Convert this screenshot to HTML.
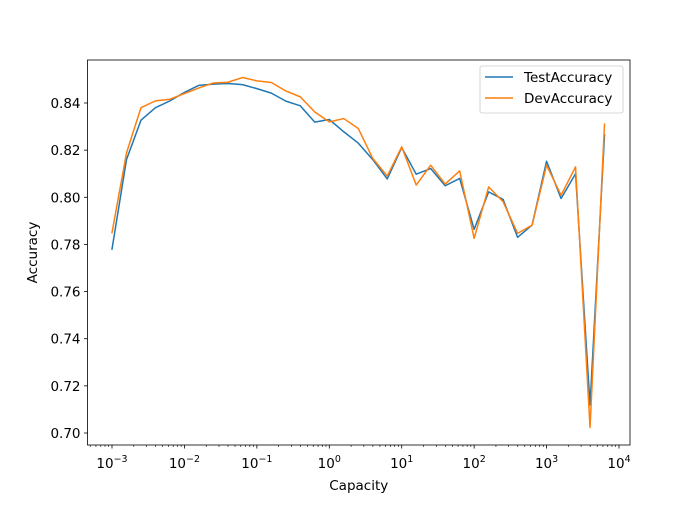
<!DOCTYPE html>
<html><head><meta charset="utf-8"><style>
body{margin:0;background:#fff}
svg text{font-family:"DejaVu Sans","Liberation Sans",sans-serif;font-size:13.5px;fill:#000}
</style></head><body>
<svg id="chart" width="700" height="500" xmlns="http://www.w3.org/2000/svg">
<rect width="700" height="500" fill="#fff"/>
<g id="plot"></g>
</svg>
<script>
const exponents = [];
for (let i = 0; i < 35; i++) exponents.push(-3 + 0.2 * i);
const testAccuracy = [0.778,0.816,0.8327,0.838,0.8409,0.8445,0.8475,0.848,0.8483,0.8478,0.8461,0.8442,0.8408,0.8388,0.8319,0.833,0.8278,0.823,0.816,0.8078,0.8211,0.8098,0.8122,0.8049,0.808,0.7864,0.8023,0.7991,0.783,0.7882,0.8153,0.7995,0.81,0.7119,0.8264];
const devAccuracy = [0.785,0.8188,0.838,0.8409,0.8416,0.844,0.8464,0.8485,0.8488,0.8508,0.8494,0.8487,0.8451,0.8426,0.8362,0.832,0.8334,0.8292,0.8165,0.809,0.8214,0.8052,0.8136,0.8056,0.8112,0.7826,0.8044,0.7981,0.7847,0.7882,0.8136,0.8009,0.8129,0.7024,0.831];
const yTicks = [0.70,0.72,0.74,0.76,0.78,0.80,0.82,0.84];
const xTickExps = [-3,-2,-1,0,1,2,3,4];

const L=87.5,R=630,T=60,B=445;
const xs = e => 112 + (e + 3) * (619 - 112) / 7;
const ys = v => 433 - (v - 0.70) / 0.02 * (433 - 103) / 7;
const NS="http://www.w3.org/2000/svg";
const g=document.getElementById('plot');
function mk(tag,attrs,parent){const el=document.createElementNS(NS,tag);for(const k in attrs)el.setAttribute(k,attrs[k]);(parent||g).appendChild(el);return el;}

const colors=['#1f77b4','#ff7f0e'];
[testAccuracy,devAccuracy].forEach((s,si)=>{
  const pts=s.map((v,i)=>xs(exponents[i]).toFixed(2)+','+ys(v).toFixed(2)).join(' ');
  const pl=mk('polyline',{points:pts,fill:'none',stroke:colors[si],'stroke-width':1.5,'stroke-linejoin':'round','stroke-linecap':'square'});
  
  
});

const fr=mk('rect',{x:L,y:T,width:R-L,height:B-T,fill:'none',stroke:'#000','stroke-width':0.8});



yTicks.forEach(v=>{
  const y=ys(v);
  mk('line',{x1:L,x2:L-3.5,y1:y,y2:y,stroke:'#000','stroke-width':0.8});
  const t=mk('text',{x:L-7,y:y+5,'text-anchor':'end'});
  t.textContent=v.toFixed(2);
  
  
});
xTickExps.forEach(e=>{
  const x=xs(e);
  mk('line',{x1:x,x2:x,y1:B,y2:B+3.5,stroke:'#000','stroke-width':0.8});
  const t=mk('text',{x:x,y:B+23,'text-anchor':'middle'});
  
  
  const a=document.createElementNS(NS,'tspan');a.textContent='10';t.appendChild(a);
  const b=document.createElementNS(NS,'tspan');b.textContent=(e<0?'\u2212'+(-e):''+e);b.setAttribute('dy','-6');b.setAttribute('font-size','9.5');t.appendChild(b);
});
for(let e=-4;e<=4;e++){for(let m=2;m<=9;m++){const x=xs(e+Math.log10(m));if(x>L&&x<R)mk('line',{x1:x,x2:x,y1:B,y2:B+2,stroke:'#000','stroke-width':0.6});}}

let t=mk('text',{x:(L+R)/2,y:490,'text-anchor':'middle'});t.textContent='Capacity';


t=mk('text',{x:37,y:(T+B)/2,'text-anchor':'middle',transform:'rotate(-90 37 '+((T+B)/2)+')'});t.textContent='Accuracy';



const lg=mk('g',{});


mk('rect',{x:480,y:66,width:143,height:47,rx:2,fill:'#fff','fill-opacity':0.8,stroke:'#ccc','stroke-width':0.8},lg);
['TestAccuracy','DevAccuracy'].forEach((n,i)=>{
  const y=77+i*21;
  mk('line',{x1:485,x2:513,y1:y,y2:y,stroke:colors[i],'stroke-width':1.5},lg);
  const tx=mk('text',{x:524,y:y+5},lg);tx.textContent=n;
  
  
});
</script>
</body></html>
